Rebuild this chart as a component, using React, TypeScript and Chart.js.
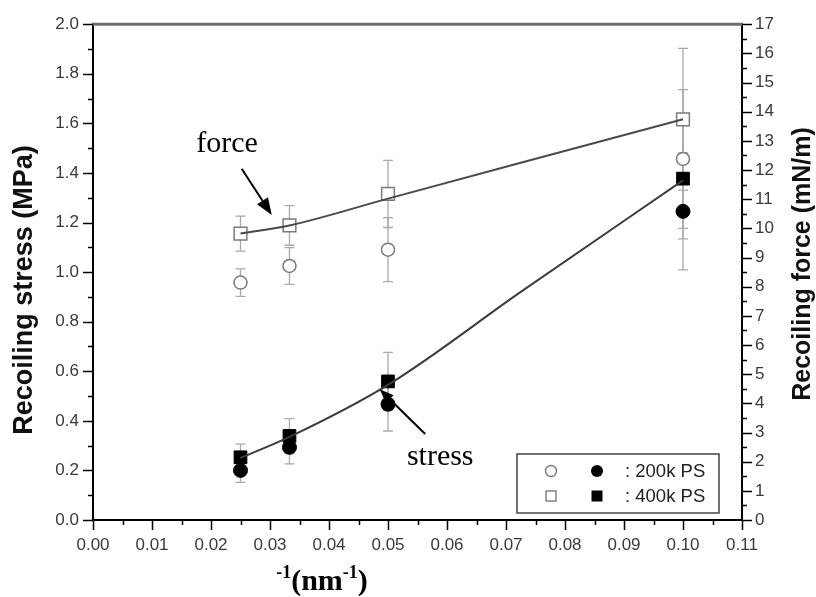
import React, { useEffect, useRef } from 'react';
import { Chart, registerables } from 'chart.js';

Chart.register(...registerables);

// ---- data ----
const xValues = [0.025, 0.0333, 0.05, 0.1];

// Recoiling force (mN/m), right axis
const force200 = [8.14, 8.71, 9.27, 12.38];
const force200Err = [0.47, 0.63, 1.1, 2.38];
const force400 = [9.82, 10.1, 11.18, 13.74];
const force400Err = [0.6, 0.68, 1.15, 2.43];

// Recoiling stress (MPa), left axis
const stress200 = [0.2, 0.293, 0.467, 1.245];
const stress200Err = [0.048, 0.067, 0.108, 0.236];
const stress400 = [0.253, 0.339, 0.559, 1.377];
const stress400Err = [0.053, 0.07, 0.117, 0.243];

// fitted guide curves
const fitX = [0.025, 0.0333, 0.05, 0.0725, 0.1];
const forceFit = [9.82, 10.1, 11.02, 12.25, 13.74];
const stressFit = [0.25, 0.335, 0.545, 0.92, 1.37];

// tick labels
const xTickLabels = ['0.00', '0.01', '0.02', '0.03', '0.04', '0.05', '0.06', '0.07', '0.08', '0.09', '0.10', '0.11'];
const leftTickLabels = ['0.0', '0.2', '0.4', '0.6', '0.8', '1.0', '1.2', '1.4', '1.6', '1.8', '2.0'];
const rightTickLabels = ['0', '1', '2', '3', '4', '5', '6', '7', '8', '9', '10', '11', '12', '13', '14', '15', '16', '17'];

const legendLabels = [': 200k PS', ': 400k PS'];
const leftTitle = 'Recoiling stress (MPa)';
const rightTitle = 'Recoiling force (mN/m)';
const xTitleParts = [
  { t: '-1', sup: true },
  { t: '(nm', sup: false },
  { t: '-1', sup: true },
  { t: ')', sup: false },
];
const annForce = 'force';
const annStress = 'stress';

const SANS = '"Liberation Sans", Arial, Helvetica, sans-serif';
const SERIF = '"Liberation Serif", "Times New Roman", serif';
const TICK_COLOR = '#3a3a3a';
const OPEN_COLOR = '#7a7a7a';
const ERR_COLOR = '#aaaaaa';

const pts = (xs: number[], ys: number[]) => xs.map((x, i) => ({ x, y: ys[i] }));

function drawArrow(ctx: CanvasRenderingContext2D, x1: number, y1: number, x2: number, y2: number, headLen: number, headW: number) {
  const ang = Math.atan2(y2 - y1, x2 - x1);
  const bx = x2 - headLen * Math.cos(ang);
  const by = y2 - headLen * Math.sin(ang);
  ctx.beginPath();
  ctx.moveTo(x1, y1);
  ctx.lineTo(bx, by);
  ctx.stroke();
  ctx.beginPath();
  ctx.moveTo(x2, y2);
  ctx.lineTo(bx + (headW / 2) * Math.sin(ang), by - (headW / 2) * Math.cos(ang));
  ctx.lineTo(bx - (headW / 2) * Math.sin(ang), by + (headW / 2) * Math.cos(ang));
  ctx.closePath();
  ctx.fill();
}

const errorBarPlugin = {
  id: 'errorBars',
  beforeDatasetsDraw(chart: any) {
    const ctx: CanvasRenderingContext2D = chart.ctx;
    const xs = chart.scales.x;
    ctx.save();
    ctx.strokeStyle = ERR_COLOR;
    ctx.lineWidth = 1.3;
    chart.data.datasets.forEach((ds: any) => {
      if (!ds.err) return;
      const ys = chart.scales[ds.yAxisID];
      ds.data.forEach((p: any, i: number) => {
        const e = ds.err[i];
        const px = xs.getPixelForValue(p.x);
        const top = ys.getPixelForValue(p.y + e);
        const bot = ys.getPixelForValue(p.y - e);
        ctx.beginPath();
        ctx.moveTo(px, top);
        ctx.lineTo(px, bot);
        ctx.moveTo(px - 5, top);
        ctx.lineTo(px + 5, top);
        ctx.moveTo(px - 5, bot);
        ctx.lineTo(px + 5, bot);
        ctx.stroke();
      });
    });
    ctx.restore();
  },
};

const decorPlugin = {
  id: 'decor',
  afterDraw(chart: any) {
    const ctx: CanvasRenderingContext2D = chart.ctx;
    const ca = chart.chartArea;
    const xs = chart.scales.x;
    const yl = chart.scales.y;
    const yr = chart.scales.y1;
    ctx.save();

    // top frame line (grey, thick)
    ctx.strokeStyle = '#6e6e6e';
    ctx.lineWidth = 3;
    ctx.beginPath();
    ctx.moveTo(ca.left - 1, ca.top);
    ctx.lineTo(ca.right + 1, ca.top);
    ctx.stroke();

    // tick marks
    ctx.strokeStyle = '#000';
    ctx.lineWidth = 1.5;
    ctx.beginPath();
    for (let i = 0; i <= 22; i++) {
      const px = Math.round(xs.getPixelForValue(i * 0.005)) + 0.5;
      const len = i % 2 === 0 ? 10 : 5;
      ctx.moveTo(px, ca.bottom);
      ctx.lineTo(px, ca.bottom + len);
    }
    for (let i = 0; i <= 20; i++) {
      const py = Math.round(yl.getPixelForValue(i * 0.1)) + 0.5;
      const len = i % 2 === 0 ? 10 : 5;
      ctx.moveTo(ca.left, py);
      ctx.lineTo(ca.left - len, py);
    }
    for (let i = 0; i <= 34; i++) {
      const py = Math.round(yr.getPixelForValue(i * 0.5)) + 0.5;
      const len = i % 2 === 0 ? 10 : 5;
      ctx.moveTo(ca.right, py);
      ctx.lineTo(ca.right + len, py);
    }
    ctx.stroke();

    // axis titles
    ctx.fillStyle = '#111';
    ctx.textAlign = 'center';
    ctx.textBaseline = 'middle';
    ctx.font = `bold 27px ${SANS}`;
    ctx.save();
    ctx.translate(25, 290);
    ctx.rotate(-Math.PI / 2);
    ctx.fillText(leftTitle, 0, 0);
    ctx.restore();
    ctx.font = `bold 25px ${SANS}`;
    ctx.save();
    ctx.translate(803, 264);
    ctx.rotate(-Math.PI / 2);
    ctx.fillText(rightTitle, 0, 0);
    ctx.restore();

    // x title with superscripts
    const mainFont = `bold 30px ${SERIF}`;
    const supFont = `bold 18px ${SERIF}`;
    let total = 0;
    xTitleParts.forEach((p) => {
      ctx.font = p.sup ? supFont : mainFont;
      total += ctx.measureText(p.t).width;
    });
    let cx = 322 - total / 2;
    ctx.textAlign = 'left';
    ctx.textBaseline = 'alphabetic';
    ctx.fillStyle = '#000';
    xTitleParts.forEach((p) => {
      ctx.font = p.sup ? supFont : mainFont;
      ctx.fillText(p.t, cx, p.sup ? 578 : 590);
      cx += ctx.measureText(p.t).width;
    });

    // annotations
    ctx.font = `30px ${SERIF}`;
    ctx.fillStyle = '#000';
    ctx.strokeStyle = '#000';
    ctx.lineWidth = 2;
    ctx.fillText(annForce, xs.getPixelForValue(0.0175), yl.getPixelForValue(1.485));
    drawArrow(
      ctx,
      xs.getPixelForValue(0.0252), yl.getPixelForValue(1.417),
      xs.getPixelForValue(0.0303), yl.getPixelForValue(1.23),
      17, 13
    );
    ctx.fillText(annStress, xs.getPixelForValue(0.0532), yl.getPixelForValue(0.22));
    drawArrow(
      ctx,
      xs.getPixelForValue(0.0563), yl.getPixelForValue(0.347),
      xs.getPixelForValue(0.0486), yl.getPixelForValue(0.527),
      14, 11
    );

    // legend box
    const lw = 202, lh = 59;
    const lx = ca.right - 23 - lw;
    const ly = ca.bottom - 7 - lh;
    ctx.fillStyle = '#fff';
    ctx.fillRect(lx, ly, lw, lh);
    ctx.strokeStyle = '#444';
    ctx.lineWidth = 1.5;
    ctx.strokeRect(lx, ly, lw, lh);
    const r1 = ly + 17, r2 = ly + 42;
    const c1 = lx + 34, c2 = lx + 80;
    ctx.strokeStyle = OPEN_COLOR;
    ctx.lineWidth = 1.4;
    ctx.beginPath();
    ctx.arc(c1, r1, 5.5, 0, Math.PI * 2);
    ctx.stroke();
    ctx.fillStyle = '#000';
    ctx.beginPath();
    ctx.arc(c2, r1, 6, 0, Math.PI * 2);
    ctx.fill();
    ctx.strokeRect(c1 - 5, r2 - 5, 10, 10);
    ctx.fillRect(c2 - 5.5, r2 - 5.5, 11, 11);
    ctx.fillStyle = '#222';
    ctx.font = `18.5px ${SANS}`;
    ctx.textBaseline = 'middle';
    ctx.fillText(legendLabels[0], lx + 108, r1 + 1);
    ctx.fillText(legendLabels[1], lx + 108, r2 + 1);

    ctx.restore();
  },
};

export default function App() {
  const ref = useRef<HTMLCanvasElement>(null);

  useEffect(() => {
    const canvas = ref.current;
    if (!canvas) return;
    const tickFont = { size: 17, family: SANS };
    const chart = new Chart(canvas, {
      type: 'scatter',
      data: {
        datasets: [
          {
            label: 'stress fit',
            data: pts(fitX, stressFit),
            yAxisID: 'y',
            showLine: true,
            pointRadius: 0,
            borderColor: '#3c3c3c',
            borderWidth: 2,
            cubicInterpolationMode: 'monotone',
          } as any,
          {
            label: 'force fit',
            data: pts(fitX, forceFit),
            yAxisID: 'y1',
            showLine: true,
            pointRadius: 0,
            borderColor: '#4a4a4a',
            borderWidth: 2,
            cubicInterpolationMode: 'monotone',
          } as any,
          {
            label: 'force 200k',
            data: pts(xValues, force200),
            err: force200Err,
            yAxisID: 'y1',
            pointStyle: 'circle',
            pointRadius: 6.5,
            borderColor: OPEN_COLOR,
            backgroundColor: '#fff',
            borderWidth: 1.5,
          } as any,
          {
            label: 'force 400k',
            data: pts(xValues, force400),
            err: force400Err,
            yAxisID: 'y1',
            pointStyle: 'rect',
            pointRadius: 9,
            borderColor: OPEN_COLOR,
            backgroundColor: '#fff',
            borderWidth: 1.5,
          } as any,
          {
            label: 'stress 200k',
            data: pts(xValues, stress200),
            err: stress200Err,
            yAxisID: 'y',
            pointStyle: 'circle',
            pointRadius: 7,
            borderColor: '#000',
            backgroundColor: '#000',
            borderWidth: 1,
          } as any,
          {
            label: 'stress 400k',
            data: pts(xValues, stress400),
            err: stress400Err,
            yAxisID: 'y',
            pointStyle: 'rect',
            pointRadius: 9,
            borderColor: '#000',
            backgroundColor: '#000',
            borderWidth: 1,
          } as any,
        ],
      },
      options: {
        responsive: false,
        animation: false,
        events: [],
        layout: { padding: { top: 19, left: 0, right: 0, bottom: 0 } },
        plugins: {
          legend: { display: false },
          tooltip: { enabled: false },
        },
        scales: {
          x: {
            type: 'linear',
            position: 'bottom',
            min: 0,
            max: 0.11,
            afterFit: (s: any) => {
              s.height = 77;
            },
            afterBuildTicks: (s: any) => {
              s.ticks = xTickLabels.map((t) => ({ value: parseFloat(t) }));
            },
            ticks: {
              autoSkip: false,
              maxRotation: 0,
              padding: 15,
              color: TICK_COLOR,
              font: tickFont,
              callback: (v: any) => Number(v).toFixed(2),
            },
            grid: { display: false, drawTicks: false },
            border: { display: true, color: '#000', width: 2 },
          },
          y: {
            type: 'linear',
            position: 'left',
            min: 0,
            max: 2,
            afterFit: (s: any) => {
              s.width = 93;
            },
            afterBuildTicks: (s: any) => {
              s.ticks = leftTickLabels.map((t) => ({ value: parseFloat(t) }));
            },
            ticks: {
              autoSkip: false,
              padding: 14,
              color: TICK_COLOR,
              font: tickFont,
              callback: (v: any) => Number(v).toFixed(1),
            },
            grid: { display: false, drawTicks: false },
            border: { display: true, color: '#000', width: 2 },
          },
          y1: {
            type: 'linear',
            position: 'right',
            min: 0,
            max: 17,
            afterFit: (s: any) => {
              s.width = 74;
            },
            afterBuildTicks: (s: any) => {
              s.ticks = rightTickLabels.map((t) => ({ value: parseFloat(t) }));
            },
            ticks: {
              autoSkip: false,
              padding: 13,
              color: TICK_COLOR,
              font: tickFont,
              callback: (v: any) => String(Math.round(Number(v))),
            },
            grid: { display: false, drawTicks: false },
            border: { display: true, color: '#000', width: 2 },
          },
        },
      } as any,
      plugins: [errorBarPlugin, decorPlugin],
    });
    return () => chart.destroy();
  }, []);

  return (
    <div style={{ position: 'fixed', left: 0, top: 0, width: 816, height: 597, background: '#fff' }}>
      <canvas ref={ref} width={816} height={597} style={{ display: 'block', width: 816, height: 597 }} />
    </div>
  );
}
